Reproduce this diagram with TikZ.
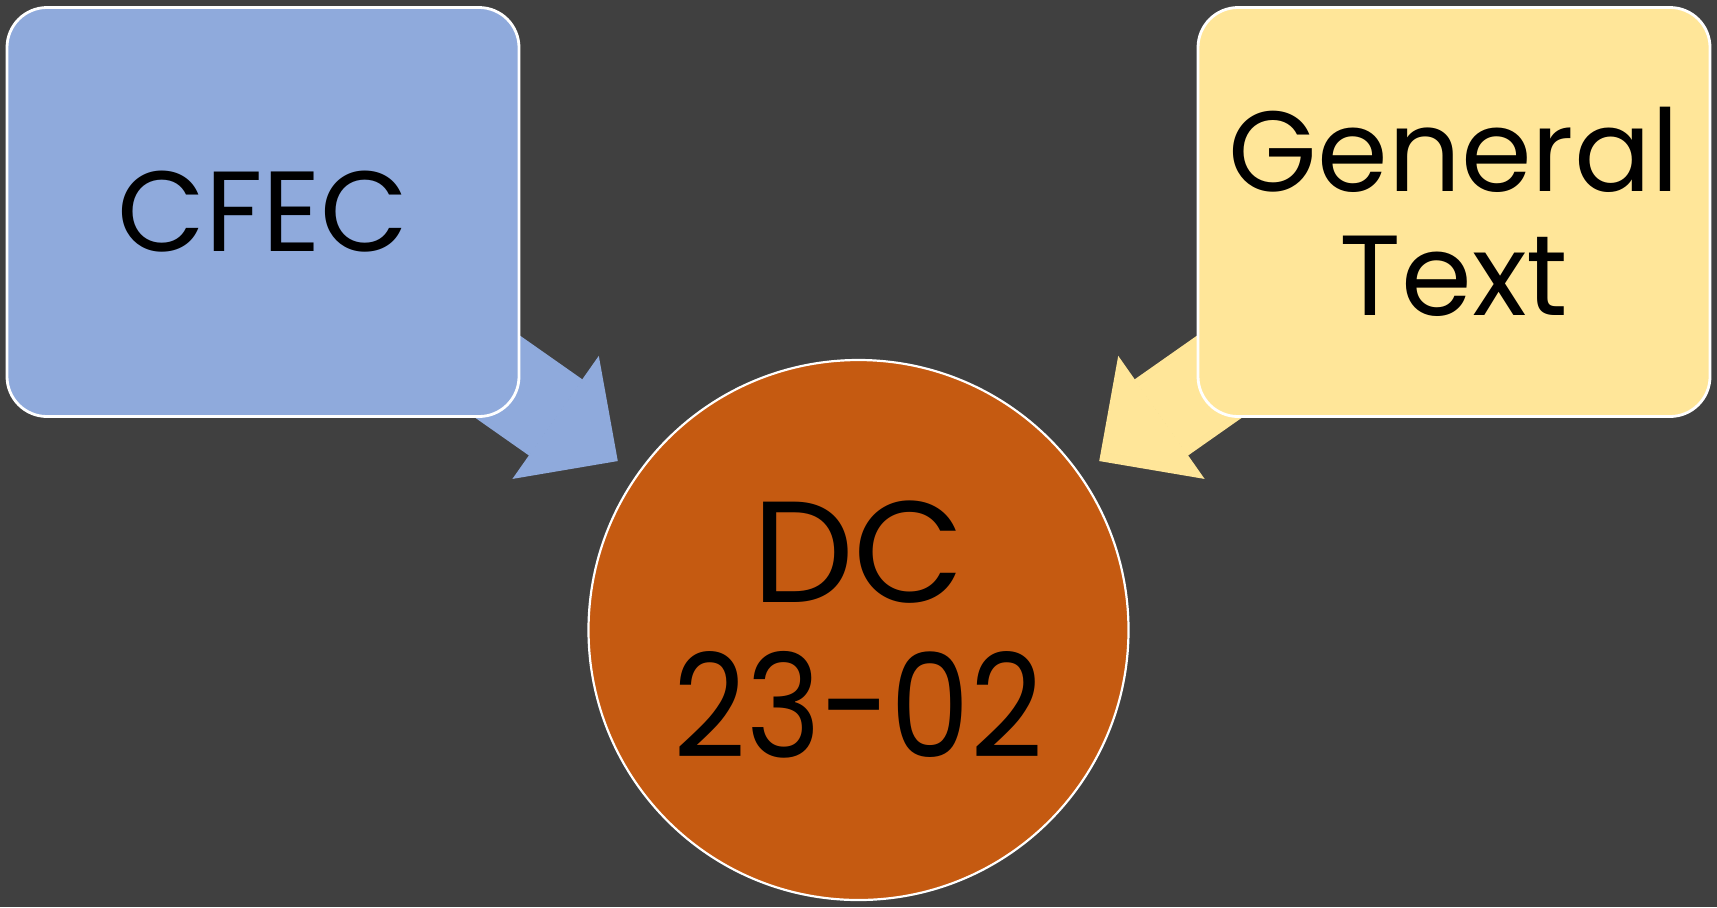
\documentclass[tikz,border=0pt]{standalone}
\usepackage{fontspec}
\setmainfont{Poppins}
\usetikzlibrary{arrows.meta}
\definecolor{slate}{RGB}{64,64,64}
\definecolor{cfecblue}{RGB}{143,170,220}
\definecolor{gtyellow}{RGB}{255,230,153}
\definecolor{dcorange}{RGB}{197,90,17}
\pgfdeclarelayer{bg}
\pgfdeclarelayer{back}
\pgfsetlayers{bg,back,main}

\begin{document}
\begin{tikzpicture}[x=0.5pt,y=0.5pt,yscale=-1,xscale=1,
  box/.style={draw=white, line width=1.4pt, rounded corners=20pt, minimum width=256pt, minimum height=204.5pt, inner sep=0pt, align=center, font=\fontsize{57}{62}\selectfont},
  disc/.style={circle, draw=white, line width=1.1pt, fill=dcorange, minimum size=270pt, inner sep=0pt, align=center, font=\fontsize{72}{77.5}\selectfont},
  fatarrow/.style={line width=46.5pt, -{Triangle[width=75pt,length=38pt,line width=1pt]}, shorten >=11.5pt}]
%set diagram size 1717 x 907
\begin{pgfonlayer}{bg}
\fill [slate] (0,0) rectangle (1717,907);
\end{pgfonlayer}
\useasboundingbox (0,0) rectangle (1717,907);

% Rounded Rect
\node [box, fill=cfecblue] (cfec) at (263,212) {CFEC};
% Rounded Rect
\node [box, fill=gtyellow] (gentext) at (1454,212) {General\\Text};
% Circle
\node [disc] (dc) at (858.5,630) {DC\\\scalebox{0.88}[1]{23-02}};

% Block Arrows
\begin{pgfonlayer}{back}
\draw [fatarrow, cfecblue] (cfec.center) -- (dc);
\draw [fatarrow, gtyellow] (gentext.center) -- (dc);
\end{pgfonlayer}

\end{tikzpicture}
\end{document}
